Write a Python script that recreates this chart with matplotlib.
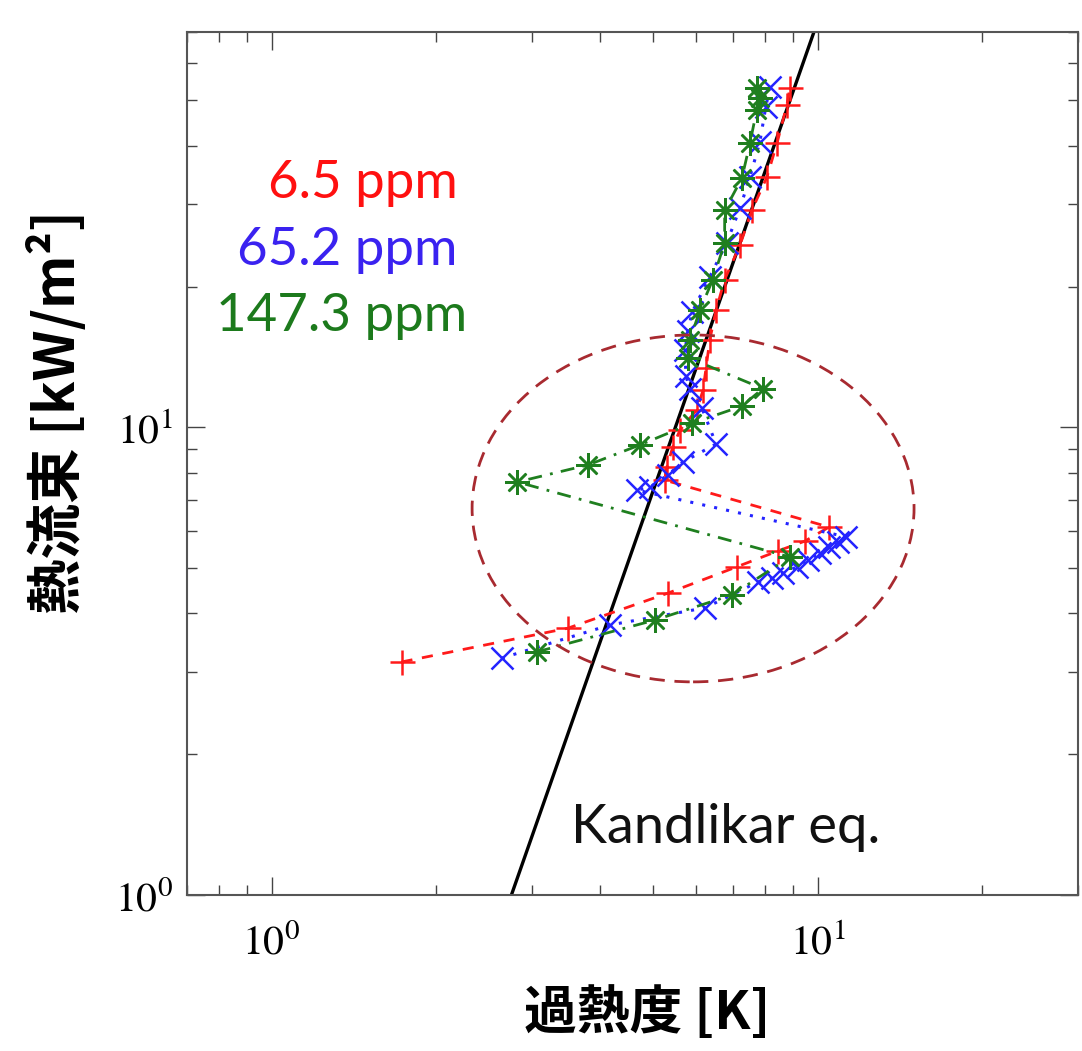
import numpy as np
import matplotlib
matplotlib.use('Agg')
from matplotlib import pyplot as plt
from matplotlib import ticker
from matplotlib.patches import Ellipse

# superheat [K] / heat flux [kW/m2]
dT_6_5 = [1.73, 3.49, 5.32, 7.11, 8.46, 9.48, 10.5,
          5.25, 5.30, 5.43, 5.60, 6.01, 6.17, 6.25, 6.35, 6.52, 6.76,
          7.21, 7.58, 8.08, 8.43, 8.79, 8.90]
q_6_5 = [3.15, 3.72, 4.42, 5.03, 5.44, 5.71, 6.12,
         7.71, 8.23, 9.08, 9.87, 10.9, 12.0, 13.4, 15.4, 17.8, 20.7,
         24.5, 29.1, 34.3, 40.5, 48.9, 53.2]

dT_65_2 = [2.64, 4.17, 6.22, 7.78, 8.25, 8.64, 9.17, 9.60, 10.1, 10.5, 10.9, 11.3,
           4.67, 4.93, 5.32, 5.67, 6.52, 6.14, 5.83, 5.74, 5.72, 5.79, 5.89,
           6.35, 6.82, 7.21, 7.52, 7.84, 8.04, 8.18]
q_65_2 = [3.21, 3.78, 4.11, 4.67, 4.76, 4.88, 5.03, 5.20, 5.39, 5.55, 5.69, 5.83,
          7.34, 7.45, 7.91, 8.43, 9.21, 11.0, 12.1, 12.9, 14.6, 16.1, 17.6,
          21.0, 24.8, 29.4, 34.3, 40.7, 48.4, 53.4]

dT_147_3 = [3.06, 5.03, 6.97, 8.90,
            2.82, 3.80, 4.73, 5.89, 7.27, 7.94,
            5.79, 5.84, 6.09, 6.43, 6.76, 6.76, 7.27, 7.52, 7.74, 7.84, 7.74]
q_147_3 = [3.31, 3.87, 4.38, 5.28,
           7.64, 8.31, 9.17, 10.2, 11.1, 12.1,
           14.1, 15.4, 17.8, 20.7, 24.8, 29.1, 34.1, 40.5, 47.7, 50.6, 53.2]

# Kandlikar correlation (straight line in log-log)
kand_dT = [2.75, 9.85]
kand_q = [1.0, 70.0]

labels = ['6.5 ppm', '65.2 ppm', '147.3 ppm']
text_colors = ['#ff1010', '#3a22f0', '#1c7a1c']

plt.rcParams['font.family'] = ['Noto Sans CJK JP', 'DejaVu Sans']
plt.rcParams['mathtext.fontset'] = 'stix'

fig = plt.figure(figsize=(10.82, 10.51), dpi=100)
ax = fig.add_axes([0.1728, 0.1484, 0.8235, 0.8211])
ax.set_xscale('log')
ax.set_yscale('log')

ax.plot(kand_dT, kand_q, color='k', lw=2.4, zorder=2)
ax.plot(dT_6_5, q_6_5, color='#ff1a1a', ls=(0, (4, 3.5)), lw=2.0,
        marker='+', ms=18, mew=1.8, zorder=3)
ax.plot(dT_65_2, q_65_2, color='#2424ff', ls=(0, (1, 3)), lw=2.2,
        marker='x', ms=16, mew=1.8, zorder=4)
ax.plot(dT_147_3, q_147_3, color='#1f7f1f', ls=(0, (5, 3, 1, 3)), lw=2.0,
        marker=(8, 2, 0), ms=18, mew=1.8, zorder=5)

# dashed ellipse around the hysteresis region
ell = Ellipse((0.568, 0.448), 0.496, 0.402, transform=ax.transAxes,
              fill=False, ec='#a82a30', lw=2.0, ls=(0, (5.5, 3.5)), zorder=6)
ax.add_patch(ell)

ax.set_xlim(0.7, 30)
ax.set_ylim(1, 70)

fmt = ticker.FuncFormatter(lambda v, p: r'$10^{%d}$' % round(np.log10(v)))
ax.xaxis.set_major_formatter(fmt)
ax.yaxis.set_major_formatter(fmt)
ax.xaxis.set_minor_formatter(ticker.NullFormatter())
ax.yaxis.set_minor_formatter(ticker.NullFormatter())
ax.tick_params(which='both', direction='in', top=True, right=True,
               color='#444444', width=1.0, labelsize=30)
ax.tick_params(which='major', length=13)
ax.tick_params(which='minor', length=7)
ax.tick_params(axis='x', pad=20)
ax.tick_params(axis='y', pad=10)
for s in ax.spines.values():
    s.set_color('#555555')
    s.set_linewidth(1.5)

ax.set_xlabel('過熱度 [K]', fontsize=38, fontweight='bold')
ax.set_ylabel('熱流束 [kW/m²]', fontsize=40, fontweight='bold')
ax.xaxis.set_label_coords(0.517, -0.106)
ax.yaxis.set_label_coords(-0.112, 0.56)

xpos = [0.304, 0.304, 0.314]
ypos = [0.825, 0.747, 0.670]
for lab, c, xx, yy in zip(labels, text_colors, xpos, ypos):
    ax.text(xx, yy, lab, color=c, fontsize=38, family='Lato',
            ha='right', va='center', transform=ax.transAxes)
ax.text(0.431, 0.078, 'Kandlikar eq.', color='#111111', fontsize=39,
        family='Lato', ha='left', va='center', transform=ax.transAxes)

fig.savefig('out.png', dpi=100)
